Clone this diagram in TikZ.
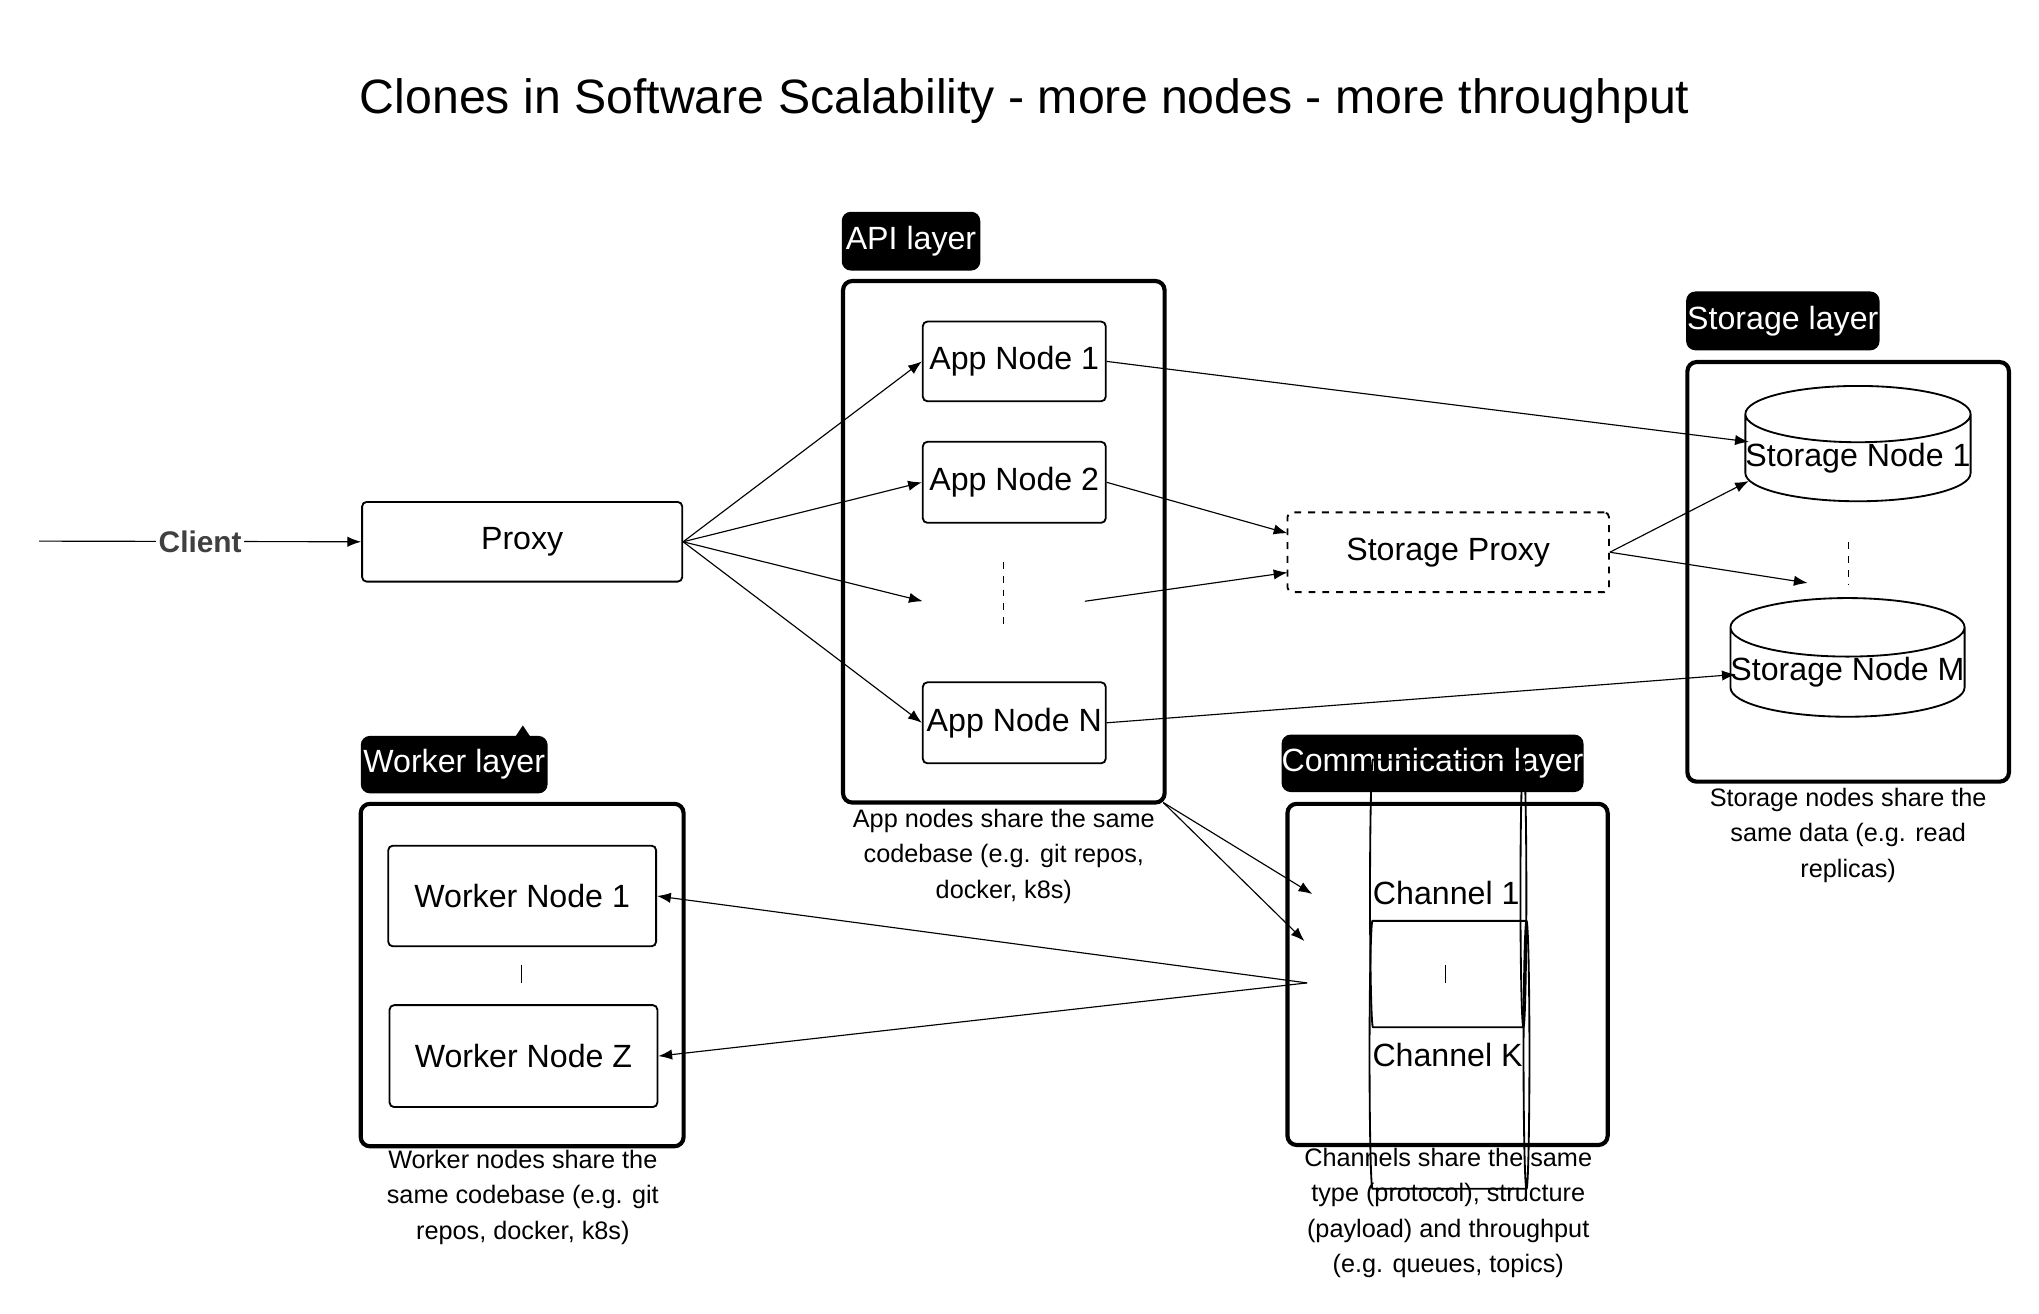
\documentclass[tikz,border=0pt]{standalone}
\usepackage{fontspec}
\setmainfont{Liberation Sans}
\usetikzlibrary{shapes.geometric,arrows.meta}
\begin{document}
\begin{tikzpicture}[x=0.02cm,y=-0.02cm,
  box/.style={draw,rounded corners=2pt,line width=0.8pt,font=\fontsize{14}{16}\selectfont,inner sep=0pt},
  cont/.style={draw,rounded corners=4pt,line width=1.8pt},
  tag/.style={fill=black,text=white,rounded corners=4pt,font=\fontsize{14}{16}\selectfont,inner sep=0pt},
  captxt/.style={font=\fontsize{11}{15.5}\selectfont,align=center},
  arr/.style={-{Latex[length=6pt,width=4.5pt]},line width=0.5pt},
  cyl/.style={draw,cylinder,line width=0.8pt,font=\fontsize{14}{16}\selectfont,inner sep=0pt,aspect=0.25}]
\useasboundingbox (0,0) rectangle (1560,1005);
\node[font=\fontsize{21}{24}\selectfont] (title) at (784,77) {Clones in Software Scalability - more nodes - more throughput};

% proxy and client
\node[box,minimum width=4.9cm,minimum height=1.22cm] (proxy) at (399.5,414.5) {Proxy};
\coordinate (cstart) at (30,414);
\draw[arr] (cstart) -- (proxy.west) node[pos=0.5,fill=white,inner sep=1pt,font=\bfseries\fontsize{13}{15}\selectfont,text=black!75] {Client};

% API layer
\node[tag,minimum width=2.12cm,minimum height=0.9cm] (apitag) at (697,184.5) {API layer};
\draw[cont] (645,215) rectangle (891,614);
\coordinate (apibr) at (890,614);
\node[box,minimum width=2.8cm,minimum height=1.22cm] (a1) at (776,276.5) {App Node 1};
\node[box,minimum width=2.8cm,minimum height=1.24cm] (a2) at (776,369) {App Node 2};
\node[box,minimum width=2.8cm,minimum height=1.24cm] (an) at (776,553) {App Node N};
\draw[dashed,line width=0.5pt] (768,430) -- (768,478);
\coordinate (adots) at (706,460);
\coordinate (adots2) at (830,460);
\node[captxt] (apicap) at (768,655) {App nodes share the same\\codebase (e.g. git repos,\\docker, k8s)};

\draw[arr] (proxy.east) -- (a1.west);
\draw[arr] (proxy.east) -- (a2.west);
\draw[arr] (proxy.east) -- (adots);
\draw[arr] (proxy.east) -- (an.west);

% storage
\node[box,dashed,minimum width=4.92cm,minimum height=1.22cm] (sp) at (1108,422.5) {Storage Proxy};
\node[tag,minimum width=2.96cm,minimum height=0.9cm] (sttag) at (1364,245.5) {Storage layer};
\draw[cont] (1291,277) rectangle (1537,598);
\node[cyl,shape border rotate=90,minimum width=3.34cm,minimum height=1.5cm] (s1) at (1421.5,350.5) {Storage Node 1};
\node[cyl,shape border rotate=90,minimum width=3.38cm,minimum height=1.5cm] (sm) at (1413.5,514.5) {Storage Node M};
\draw[dashed,line width=0.5pt] (1414,415) -- (1414,447);
\coordinate (sdots) at (1383,446);
\coordinate (s1in) at (1338,338);
\coordinate (s1in2) at (1338,368);
\coordinate (smin) at (1328,516);
\node[captxt] (stcap) at (1414,639) {Storage nodes share the\\same data (e.g. read\\replicas)};

\draw[arr] (a1.east) -- (s1in);
\draw[arr] (a2.east) -- (985,408);
\draw[arr] (adots2) -- (985,438);
\draw[arr] (an.east) -- (smin);
\draw[arr] (sp.east) -- (s1in2);
\draw[arr] (sp.east) -- (sdots);

% communication
\node[tag,minimum width=4.48cm,minimum height=0.88cm] (cotag) at (1096,584) {Communication layer};
\draw[cont] (985,615) rectangle (1230,876);
\node[cyl,minimum width=4.1cm,minimum height=1.54cm] (c1) at (1106.5,683.5) {Channel 1\hspace{0.8cm}};
\node[cyl,minimum width=4.1cm,minimum height=1.56cm] (ck) at (1107.5,807) {Channel K\hspace{0.8cm}};
\draw[line width=0.5pt] (1106,738) -- (1106,752);
\node[captxt] (cocap) at (1108,928) {Channels share the same\\type (protocol), structure\\(payload) and throughput\\(e.g. queues, topics)};
\draw[arr] (apibr) -- (1004,684);
\draw[arr] (apibr) -- (998,720);

% worker
\node[tag,minimum width=2.86cm,minimum height=0.88cm] (wtag) at (347.5,585) {Worker layer};
\fill (394,564) -- (400,555) -- (406,564) -- cycle;
\draw[cont] (276,615) rectangle (523,877);
\node[box,minimum width=4.1cm,minimum height=1.54cm] (w1) at (399.5,685.5) {Worker Node 1};
\node[box,minimum width=4.1cm,minimum height=1.56cm] (wz) at (400.5,808) {Worker Node Z};
\draw[line width=0.5pt] (399,738) -- (399,752);
\node[captxt] (wcap) at (400,916) {Worker nodes share the\\same codebase (e.g. git\\repos, docker, k8s)};
\coordinate (cout) at (1000,752);
\draw[arr] (cout) -- (w1.east);
\draw[arr] (cout) -- (wz.east);
\end{tikzpicture}
\end{document}
